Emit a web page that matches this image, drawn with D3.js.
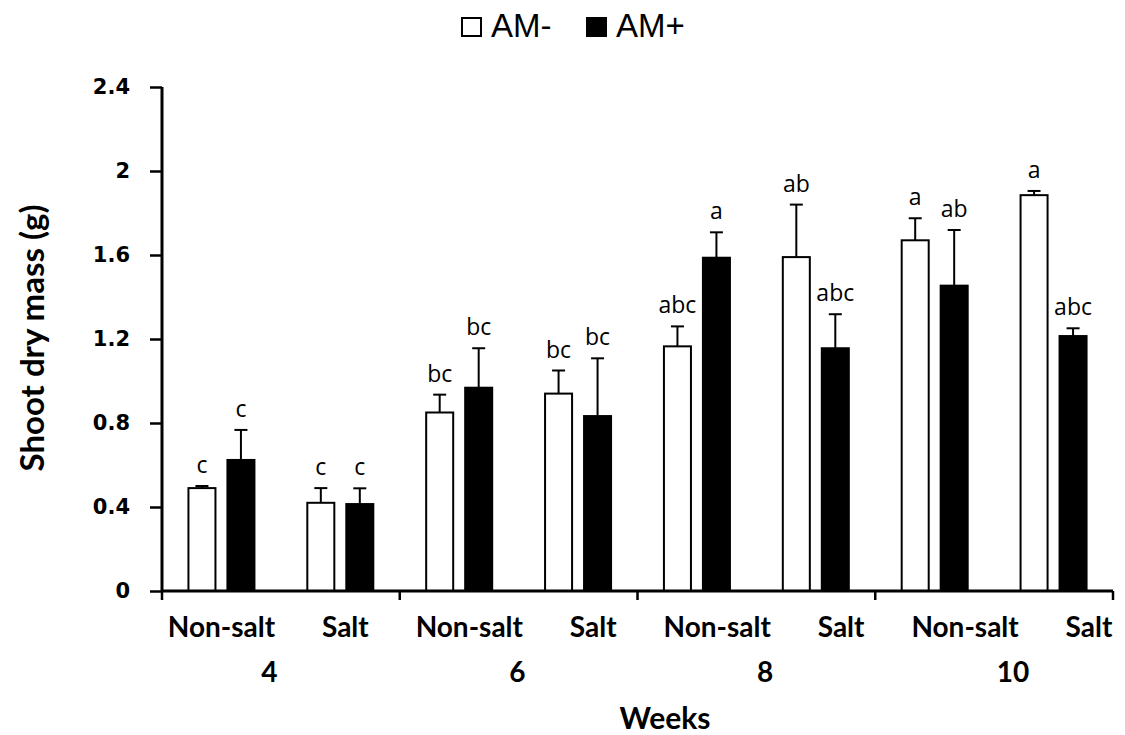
<!DOCTYPE html>
<html><head><meta charset="utf-8">
<script src="https://cdn.jsdelivr.net/npm/d3@7"></script>
<style>body{margin:0;background:#fff}svg{display:block}</style>
</head><body>
<svg id="c" width="1125" height="735"></svg>
<script>
const weeks = ["4", "6", "8", "10"];
const treatments = ["Non-salt", "Salt"];
const seriesNames = ["AM-", "AM+"];
const amMinus = [0.49, 0.42, 0.85, 0.94, 1.165, 1.59, 1.67, 1.885];
const amMinusErr = [0.01, 0.07, 0.085, 0.11, 0.095, 0.25, 0.105, 0.02];
const amPlus = [0.624, 0.414, 0.968, 0.833, 1.587, 1.156, 1.454, 1.214];
const amPlusErr = [0.143, 0.075, 0.188, 0.275, 0.121, 0.162, 0.265, 0.037];
const amMinusLetters = ["c", "c", "bc", "bc", "abc", "ab", "a", "a"];
const amPlusLetters = ["c", "c", "bc", "bc", "a", "abc", "ab", "abc"];
const yTicks = [0, 0.4, 0.8, 1.2, 1.6, 2, 2.4];

const svg = d3.select("#c");
const L = 162, R = 1113, T = 87, B = 591;

const cats = [];
weeks.forEach(w => treatments.forEach(t => cats.push(w + "|" + t)));

const x = d3.scaleBand().domain(cats).range([L, R]).padding(0);
const bw = x.bandwidth();
const xs = d3.scaleBand().domain(seriesNames).range([bw / 2 - 34, bw / 2 + 34]).paddingInner(0.256).paddingOuter(0);
const y = d3.scaleLinear().domain([0, 2.4]).range([B, T]);

const rows = [];
cats.forEach((c, i) => {
  rows.push({cat: c, s: "AM-", v: amMinus[i], e: amMinusErr[i], l: amMinusLetters[i]});
  rows.push({cat: c, s: "AM+", v: amPlus[i], e: amPlusErr[i], l: amPlusLetters[i]});
});
const fill = {"AM-": "#fff", "AM+": "#000"};

// error bars (upper)
const eg = svg.append("g");
rows.forEach(d => {
  const cx = x(d.cat) + xs(d.s) + xs.bandwidth() / 2;
  eg.append("line").attr("x1", cx).attr("x2", cx).attr("y1", y(d.v)).attr("y2", y(d.v + d.e))
    .attr("stroke", "#000").attr("stroke-width", 2);
  eg.append("line").attr("x1", cx - 6.5).attr("x2", cx + 6.5).attr("y1", y(d.v + d.e)).attr("y2", y(d.v + d.e))
    .attr("stroke", "#000").attr("stroke-width", 2);
});

// bars
svg.append("g").selectAll("rect").data(rows).join("rect")
  .attr("x", d => x(d.cat) + xs(d.s) + 1)
  .attr("width", xs.bandwidth() - 2)
  .attr("y", d => y(d.v))
  .attr("height", d => B - y(d.v))
  .attr("fill", d => fill[d.s])
  .attr("stroke", "#000").attr("stroke-width", 2);

// letters
svg.append("g").selectAll("text").data(rows).join("text")
  .attr("x", d => x(d.cat) + xs(d.s) + xs.bandwidth() / 2)
  .attr("y", d => y(d.v + d.e) - 13)
  .attr("text-anchor", "middle")
  .attr("font-family", "'Open Sans', sans-serif").attr("font-size", 23)
  .attr("fill", "#000")
  .text(d => d.l);

// y axis
const ya = svg.append("g").attr("transform", `translate(${L},0)`)
  .call(d3.axisLeft(y).tickValues(yTicks).tickSize(12).tickPadding(20).tickFormat(d => d3.format("")(d)));
ya.select(".domain").attr("stroke-width", 3).attr("d", `M0,${T}V${B}`);
ya.selectAll(".tick line").attr("stroke-width", 2.5);
ya.selectAll(".tick text").attr("font-family", "'DejaVu Sans', sans-serif").attr("font-weight", "bold")
  .attr("font-size", 21).attr("fill", "#000");

// x axis line & group ticks
const xa = svg.append("g");
xa.append("line").attr("x1", L).attr("x2", R).attr("y1", B).attr("y2", B).attr("stroke", "#000").attr("stroke-width", 3);
const groupEdges = d3.range(weeks.length + 1).map(i => i === weeks.length ? R : x(weeks[i] + "|" + treatments[0]));
xa.selectAll("line.gt").data(groupEdges).join("line").attr("class", "gt")
  .attr("x1", d => d).attr("x2", d => d).attr("y1", B).attr("y2", B + 9)
  .attr("stroke", "#000").attr("stroke-width", 2.5);

// category labels
const lab = d3.scaleLinear().domain([0, cats.length - 1]).range([x(cats[0]) + bw / 2, R - 24]);
svg.append("g").selectAll("text").data(cats).join("text")
  .attr("x", (d, i) => lab(i)).attr("y", 637)
  .attr("text-anchor", "middle")
  .attr("font-family", "Lato, sans-serif").attr("font-weight", "bold").attr("font-size", 28)
  .attr("fill", "#000")
  .text(d => d.split("|")[1]);

svg.append("g").selectAll("text").data(weeks).join("text")
  .attr("x", (d, i) => (lab(2 * i) + lab(2 * i + 1)) / 2 - 14).attr("y", 682)
  .attr("text-anchor", "middle")
  .attr("font-family", "Lato, sans-serif").attr("font-weight", "bold").attr("font-size", 28)
  .attr("fill", "#000")
  .text(d => d);

svg.append("text").attr("x", 665).attr("y", 729).attr("text-anchor", "middle")
  .attr("font-family", "Lato, sans-serif").attr("font-weight", "bold").attr("font-size", 30)
  .attr("fill", "#000").text("Weeks");

svg.append("text").attr("transform", "translate(44,338) rotate(-90)").attr("text-anchor", "middle")
  .attr("font-family", "Lato, sans-serif").attr("font-weight", "bold").attr("font-size", 33)
  .attr("fill", "#000").text("Shoot dry mass (g)");

// legend
const legX = [461, 586];
const lg = svg.append("g");
seriesNames.forEach((s, i) => {
  lg.append("rect").attr("x", legX[i] + 1).attr("y", 18).attr("width", 19).attr("height", 18)
    .attr("fill", fill[s]).attr("stroke", "#000").attr("stroke-width", 2);
  lg.append("text").attr("x", legX[i] + 30).attr("y", 37)
    .attr("font-family", "'Liberation Sans', Arial, sans-serif").attr("font-size", 33)
    .attr("fill", "#000").text(s);
});
</script>
</body></html>
